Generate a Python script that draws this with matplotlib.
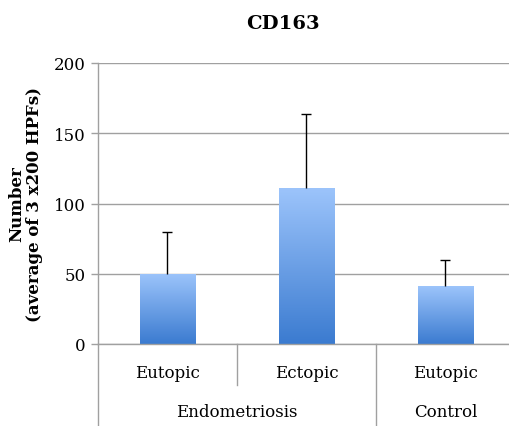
import numpy as np
import matplotlib
matplotlib.use("Agg")
import matplotlib.pyplot as plt
from matplotlib.colors import LinearSegmentedColormap

# data
sites = ["Eutopic", "Ectopic", "Eutopic"]
groups = ["Endometriosis", "Control"]
group_sizes = [2, 1]
means = [50, 111, 41]
errors = [30, 53, 19]
yticks = [0, 50, 100, 150, 200]

plt.rcParams["font.family"] = ["DejaVu Serif"]

fig = plt.figure(figsize=(5.10, 4.27), dpi=100)
ax = fig.add_axes([98 / 510, 1 - 345 / 427, 417 / 510, 281 / 427])

x = np.arange(len(means))
bars = ax.bar(x, means, width=0.4, color="none", edgecolor="none", zorder=2)
eb = ax.errorbar(x, means, yerr=[np.zeros(len(errors)), errors], fmt="none",
                 ecolor="black", elinewidth=1.0, capsize=3.5, capthick=1.0, zorder=3)
# only the upper cap is drawn in the original
eb[1][0].set_visible(False)

# vertical gradient fill for each bar
cmap = LinearSegmentedColormap.from_list("bluegrad", ["#3b7bd0", "#9cc4fb"])
grad = np.linspace(0, 1, 256).reshape(-1, 1)
for b in bars:
    x0, y0 = b.get_x(), b.get_y()
    w, h = b.get_width(), b.get_height()
    im = ax.imshow(grad, cmap=cmap, origin="lower", aspect="auto",
                   extent=[x0, x0 + w, y0, y0 + h], zorder=2)
    im.set_clip_path(b)

ax.set_xlim(-0.5, len(means) - 0.5)
ax.set_ylim(0, 200)
ax.set_yticks(yticks)
ax.tick_params(axis="y", length=5, width=1, color="#a0a0a0", labelsize=12, pad=4)
ax.set_xticks([])
ax.yaxis.grid(True, color="#a0a0a0", linewidth=1)
ax.set_axisbelow(True)
for s in ["top", "right"]:
    ax.spines[s].set_visible(False)
for s in ["left", "bottom"]:
    ax.spines[s].set_color("#a0a0a0")
    ax.spines[s].set_linewidth(1)

# two-level category axis
for i, lab in enumerate(sites):
    ax.text(i, -0.1, lab, transform=ax.get_xaxis_transform(),
            ha="center", va="center", fontsize=12)
start = 0
for g, n in zip(groups, group_sizes):
    ax.text(start + (n - 1) / 2, -0.24, g, transform=ax.get_xaxis_transform(),
            ha="center", va="center", fontsize=12)
    start += n

xt = ax.get_xaxis_transform()
ax.plot([-0.5, -0.5], [0, -0.30], transform=xt, color="#a0a0a0", lw=1, clip_on=False)
ax.plot([0.5, 0.5], [0, -0.145], transform=xt, color="#a0a0a0", lw=1, clip_on=False)
ax.plot([1.5, 1.5], [0, -0.30], transform=xt, color="#a0a0a0", lw=1, clip_on=False)

ax.set_ylabel("Number\n(average of 3 x200 HPFs)", fontsize=12, fontweight="bold",
              linespacing=1.0, labelpad=8)
fig.text(283 / 510, 1 - 24 / 427, "CD163", ha="center", va="center",
         fontsize=14, fontweight="bold")

fig.savefig("out.png", dpi=100)
